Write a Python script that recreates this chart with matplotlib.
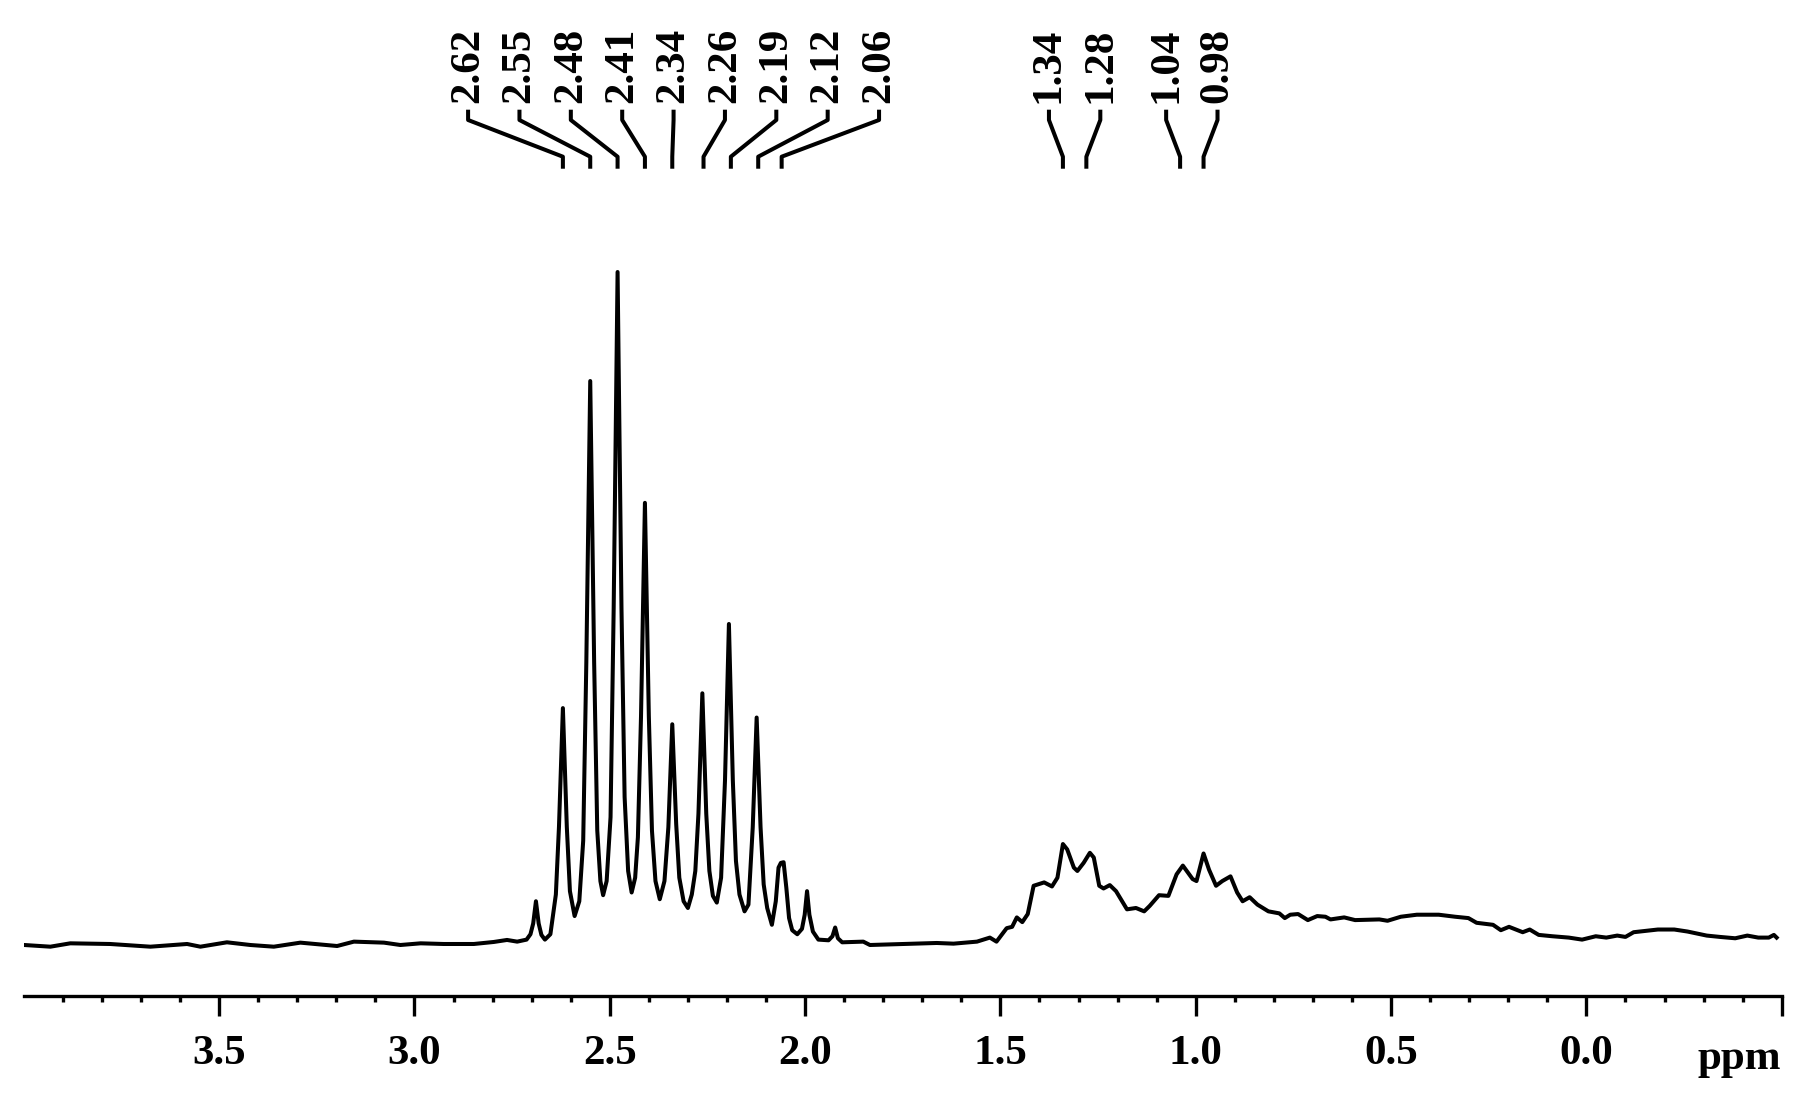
import numpy as np
import matplotlib
matplotlib.use("Agg")
import matplotlib.pyplot as plt
import matplotlib.transforms as mtransforms

# Спектр: хім. зсув (ppm) та інтенсивність (макс. пік = 100)
ppm = [
    3.999, 3.932, 3.881, 3.779, 3.676, 3.582, 3.548, 3.48, 3.42, 3.36,
    3.292, 3.198, 3.155, 3.078, 3.036, 2.984, 2.925, 2.848, 2.797, 2.763,
    2.737, 2.713, 2.703, 2.696, 2.689, 2.682, 2.675, 2.666, 2.652, 2.638,
    2.630, 2.620, 2.610, 2.602, 2.590, 2.578, 2.568, 2.560, 2.550, 2.540,
    2.532, 2.524, 2.517, 2.508, 2.498, 2.490, 2.480, 2.470, 2.462, 2.453,
    2.444, 2.435, 2.428, 2.420, 2.410, 2.400, 2.392, 2.383, 2.372, 2.360,
    2.350, 2.340, 2.330, 2.322, 2.311, 2.300, 2.290, 2.281, 2.273, 2.263,
    2.253, 2.245, 2.236, 2.226, 2.215, 2.205, 2.195, 2.185, 2.177, 2.168,
    2.155, 2.145, 2.134, 2.124, 2.114, 2.106, 2.097, 2.085, 2.075, 2.068,
    2.062, 2.055, 2.048, 2.041, 2.033, 2.020, 2.008, 2.001, 1.995, 1.989,
    1.980, 1.966, 1.940, 1.930, 1.923, 1.916, 1.905, 1.851, 1.834, 1.723,
    1.663, 1.620, 1.560, 1.527, 1.510, 1.484, 1.470, 1.458, 1.444, 1.430,
    1.415, 1.388, 1.368, 1.354, 1.340, 1.329, 1.312, 1.303, 1.287, 1.271,
    1.261, 1.247, 1.236, 1.220, 1.204, 1.176, 1.153, 1.132, 1.118, 1.094,
    1.070, 1.049, 1.033, 1.008, 0.998, 0.980, 0.966, 0.948, 0.932, 0.911,
    0.894, 0.880, 0.862, 0.842, 0.814, 0.786, 0.772, 0.758, 0.738, 0.713,
    0.689, 0.668, 0.655, 0.620, 0.592, 0.530, 0.509, 0.475, 0.434, 0.378,
    0.336, 0.302, 0.281, 0.239, 0.219, 0.198, 0.163, 0.145, 0.122, 0.087,
    0.045, 0.011, -0.024, -0.051, -0.079, -0.100, -0.121, -0.183, -0.225, -0.259,
    -0.308, -0.342, -0.381, -0.412, -0.440, -0.467, -0.480, -0.487,
]
intensity = [
    0.0, -0.25, 0.25, 0.15, -0.25, 0.15, -0.25, 0.4, 0.0, -0.25,
    0.35, -0.15, 0.5, 0.35, 0.0, 0.25, 0.15, 0.15, 0.45, 0.75,
    0.5, 0.8, 1.6, 3.2, 6.5, 3.2, 1.5, 0.8, 1.6, 7.5,
    17.6, 35.2, 17.6, 8.0, 4.3, 6.5, 15.5, 42.0, 83.8, 42.0,
    17.0, 9.5, 7.4, 9.5, 19.0, 50.0, 100.0, 50.0, 22.0, 11.0,
    7.8, 10.0, 16.0, 34.0, 65.7, 34.0, 17.0, 9.5, 6.8, 9.5,
    17.5, 32.8, 18.0, 10.0, 6.5, 5.5, 7.5, 11.0, 19.5, 37.4,
    19.5, 11.0, 7.3, 6.3, 10.0, 24.5, 47.7, 24.5, 12.5, 7.5,
    5.0, 6.0, 17.5, 33.8, 17.5, 9.0, 5.5, 3.0, 6.5, 11.5,
    12.2, 12.3, 8.5, 4.0, 2.2, 1.6, 2.4, 4.5, 8.0, 4.5,
    2.0, 0.8, 0.7, 1.3, 2.6, 1.0, 0.4, 0.5, 0.0, 0.2,
    0.3, 0.2, 0.5, 1.1, 0.5, 2.5, 2.7, 4.1, 3.4, 4.6,
    8.8, 9.3, 8.7, 10.0, 15.0, 14.2, 11.5, 11.0, 12.2, 13.7,
    13.0, 8.8, 8.4, 8.9, 8.0, 5.3, 5.5, 5.0, 5.8, 7.4,
    7.3, 10.5, 11.8, 9.8, 9.5, 13.6, 11.2, 8.8, 9.5, 10.2,
    7.8, 6.5, 7.1, 6.0, 5.0, 4.7, 4.0, 4.5, 4.6, 3.7,
    4.3, 4.2, 3.8, 4.1, 3.7, 3.8, 3.6, 4.2, 4.5, 4.5,
    4.2, 4.0, 3.3, 3.0, 2.2, 2.7, 1.9, 2.3, 1.5, 1.3,
    1.1, 0.8, 1.3, 1.1, 1.4, 1.2, 1.9, 2.3, 2.3, 2.0,
    1.4, 1.2, 1.0, 1.4, 1.1, 1.1, 1.5, 1.1,
]

# Підписані піки (дві групи)
peaks_left = [2.62, 2.55, 2.48, 2.41, 2.34, 2.26, 2.19, 2.12, 2.06]
peaks_right_a = [1.34, 1.28]
peaks_right_b = [1.04, 0.98]

major_ticks = [3.5, 3.0, 2.5, 2.0, 1.5, 1.0, 0.5, 0.0, -0.5]
major_labels = ['3.5', '3.0', '2.5', '2.0', '1.5', '1.0', '0.5', '0.0', '']

plt.rcParams['font.family'] = ['Liberation Serif', 'DejaVu Serif']
plt.rcParams['font.weight'] = 'bold'

W, H = 1803, 1110
fig = plt.figure(figsize=(W / 100, H / 100), dpi=100)
x0, x1 = 23.8, 1781.7
y_axis = 996
ax = fig.add_axes([x0 / W, (H - y_axis) / H, (x1 - x0) / W, y_axis / H])

px_per_unit = 6.73
base_px = 945
ax.set_xlim(4.0, -0.5)
ax.set_ylim((base_px - y_axis) / px_per_unit, base_px / px_per_unit)


def ypx(y):
    # піксель від верху рисунка -> одиниці інтенсивності
    return (base_px - y) / px_per_unit


ax.plot(ppm, intensity, color='black', lw=2.9, solid_joinstyle='round')

# Підписи піків зі сполучними лініями
spacing = 0.1315


def spread(group):
    c = np.mean(group)
    n = len(group)
    return [c + spacing * ((n - 1) / 2 - i) for i in range(n)]


for group in (peaks_left, peaks_right_a, peaks_right_b):
    for p, lx in zip(group, spread(group)):
        ax.plot([lx, lx, p, p], [ypx(111.7), ypx(120), ypx(156.7), ypx(166.7)],
                color='black', lw=2.9, clip_on=False, solid_joinstyle='round')
        ax.text(lx, ypx(103), f'{p:.2f}', rotation=90, ha='center', va='bottom',
                fontsize=31, fontweight='bold')

# Вісь
for s in ('top', 'left', 'right'):
    ax.spines[s].set_visible(False)
ax.spines['bottom'].set_linewidth(2.4)
ax.set_yticks([])
ax.set_xticks(major_ticks)
ax.set_xticklabels(major_labels)
ax.set_xticks(np.arange(-0.5, 4.0, 0.1), minor=True)
ax.tick_params(axis='x', which='major', length=14.4, width=2.4, pad=14,
               labelsize=31, direction='out')
ax.tick_params(axis='x', which='minor', length=4.5, width=2.4, direction='out')

trans = mtransforms.blended_transform_factory(ax.transData, ax.transAxes)
ax.text(-0.392, (y_axis - 1069) / y_axis, 'ppm', transform=trans, ha='center',
        va='baseline', fontsize=31, fontweight='bold')

fig.savefig('out.png', dpi=100)
